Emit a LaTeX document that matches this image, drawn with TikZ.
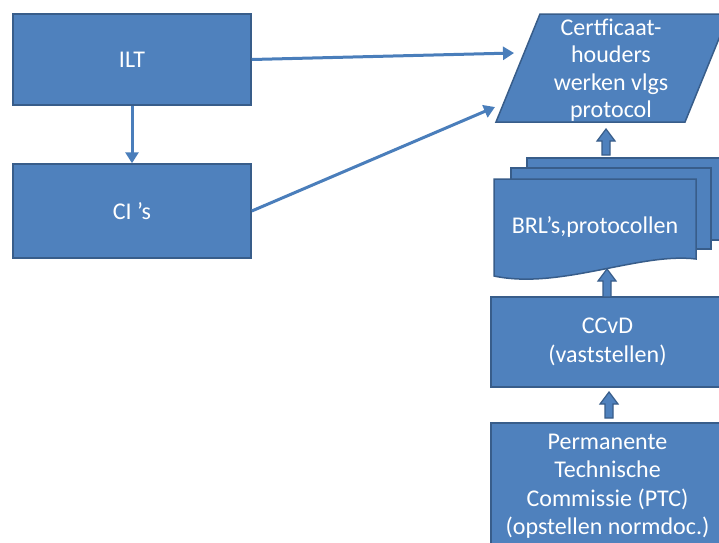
\documentclass[tikz,border=0pt]{standalone}
\usepackage{fontspec}
\setmainfont{Carlito}
\usetikzlibrary{arrows.meta,calc}
\definecolor{boxfill}{HTML}{4F81BD}
\definecolor{boxline}{HTML}{385D8A}
\definecolor{arrowcol}{HTML}{4A7EBB}
\tikzset{
  box/.style={draw=boxline, fill=boxfill, line width=1.5pt, text=white, align=center,
    font=\fontsize{24}{28.5}\selectfont, inner sep=0pt},
  shapefill/.style={draw=boxline, fill=boxfill, line width=1.5pt},
  label text/.style={text=white, align=center, font=\fontsize{24}{27.5}\selectfont, inner sep=0pt},
  conn/.style={draw=arrowcol, line width=3pt, -{Triangle[length=11pt,width=13pt]}},
  blockarrow/.style={draw=boxline, fill=boxfill, line width=1.2pt, line join=miter},
}
\newcommand\blockarrowup[2]{% tail, tip (named coordinates)
  \draw[blockarrow] ($(#1)+(-4,0)$) -- ($(#2)+(-4,12)$) -- ($(#2)+(-9,12)$) -- (#2)
    -- ($(#2)+(9,12)$) -- ($(#2)+(4,12)$) -- ($(#1)+(4,0)$) -- cycle;}
\begin{document}
\begin{tikzpicture}[x=1pt,y=-1pt]
\clip (0,0) rectangle (719,542);
\fill[white] (0,0) rectangle (719,542);
% left boxes
\node[box, minimum width=238pt, minimum height=91pt] (ILT) at (132,59.5) {ILT};
\node[box, minimum width=238pt, minimum height=94pt] (CI) at (132,211) {CI ’s};
% certificate holders parallelogram
\draw[shapefill] (540,14) -- (729,14) -- (685,122) -- (496,122) -- cycle;
\node[label text] (cert) at (611,70) {Certficaat-\\houders\\werken vlgs\\protocol};
\coordinate (certA) at (514,53);
\coordinate (certB) at (495,107);
\coordinate (certbot) at (606,129);
% multi document
\draw[shapefill] (527,158) rectangle (740,240);
\draw[shapefill] (511,168) rectangle (711,249);
\draw[shapefill] (494,179) -- (696,179) -- (696,259)
   .. controls (640,252) and (560,290) .. (494,276) -- cycle;
\node[label text] (BRL) at (595,227) {BRL’s,protocollen};
\coordinate (BRLtop) at (606,155);
\coordinate (BRLbot) at (607,269);
% CCvD
\node[box, minimum width=233pt, minimum height=90pt] (CCvD) at (607.5,342) {CCvD\\(vaststellen)};
\coordinate (CCvDtop) at (607,297);
\coordinate (CCvDbot) at (609,392);
% PTC
\node[box, minimum width=233pt, minimum height=126pt] (PTC) at (607.5,486)
  {Permanente\\Technische\\Commissie (PTC)\\(opstellen normdoc.)};
\coordinate (PTCtop) at (609,418);
% connectors
\draw[conn] (ILT.east) -- (certA);
\draw[conn] (CI.east) -- (certB);
\draw[conn] (ILT.south) -- (CI.north);
\blockarrowup{BRLtop}{certbot}
\blockarrowup{CCvDtop}{BRLbot}
\blockarrowup{PTCtop}{CCvDbot}
\end{tikzpicture}
\end{document}
